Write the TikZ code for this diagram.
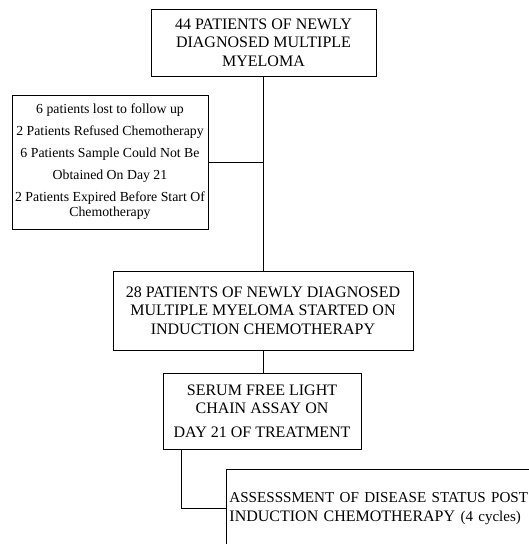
\documentclass[tikz,border=0pt]{standalone}
\usepackage{fontspec}
\setmainfont{Liberation Serif}
\begin{document}
\begin{tikzpicture}[x=1pt,y=-1pt]
\tikzset{
  box/.style={draw, line width=0.9pt, inner sep=0pt, align=center},
  link/.style={draw, line width=0.9pt},
  big/.style={font=\fontsize{16}{18.5}\selectfont},
  small/.style={font=\fontsize{13.8}{15}\selectfont},
}
\clip (0,0) rectangle (529,544);
\node[box, big, minimum width=225pt, minimum height=67pt] (b1) at (263.5,42.5)
  {44 PATIENTS OF NEWLY\\DIAGNOSED MULTIPLE\\MYELOMA};
\node[box, small, minimum width=196pt, minimum height=134pt] (b2) at (110,162)
  {6 patients lost to follow up\\[7pt]2 Patients Refused Chemotherapy\\[7pt]6 Patients Sample Could Not Be\\[7pt]Obtained On Day 21\\[7pt]2 Patients Expired Before Start Of\\Chemotherapy};
\node[box, big, minimum width=300pt, minimum height=79pt] (b3) at (263,310.5)
  {28 PATIENTS OF NEWLY DIAGNOSED\\MULTIPLE MYELOMA STARTED ON\\INDUCTION CHEMOTHERAPY};
\node[box, big, minimum width=198pt, minimum height=76pt] (b4) at (262,411)
  {SERUM FREE LIGHT\\CHAIN ASSAY ON\\[5pt]DAY 21 OF TREATMENT};
\node[box, big, align=left, anchor=north west, inner xsep=3pt, text width=340pt, minimum height=78pt] (b5) at (226,469)
  {{\fontsize{15.1}{18.5}\selectfont ASSESSSMENT OF DISEASE STATUS POST}\\INDUCTION CHEMOTHERAPY {\fontsize{15}{15}\selectfont (4 cycles)}};
\draw[link] (b1.south) -- (b1.south |- b3.north);
\draw[link] (b2.east) -- (b2.east -| b1.south);
\draw[link] (b3.south) -- (b3.south |- b4.north);
\coordinate (c4) at ([xshift=19pt]b4.south west);
\draw[link] (c4) |- (b5.west);
\end{tikzpicture}
\end{document}
